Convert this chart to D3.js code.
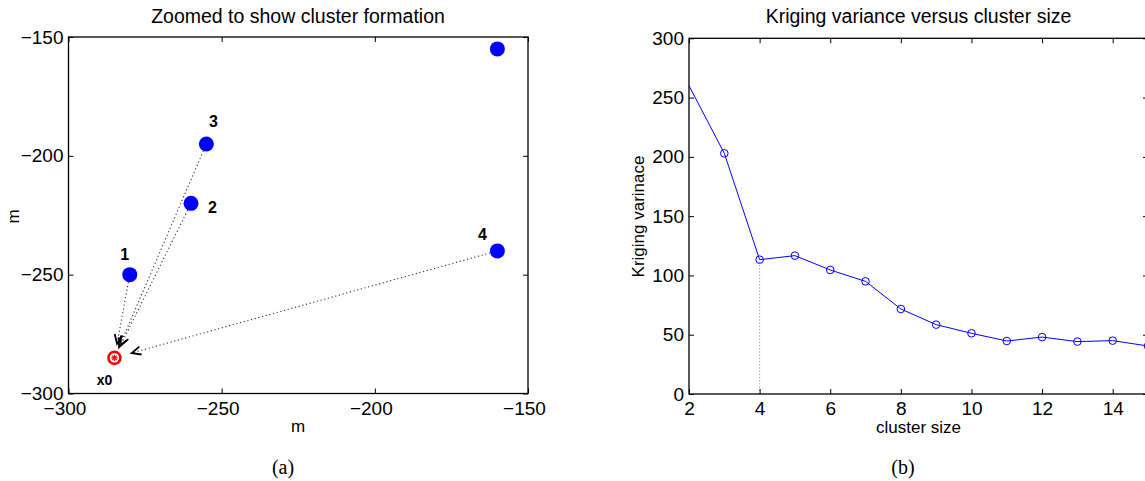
<!DOCTYPE html>
<html><head><meta charset="utf-8">
<script src="https://cdn.jsdelivr.net/npm/d3@7"></script>
<style>
html,body{margin:0;padding:0;background:#fff;overflow:hidden;}
svg{display:block;}
text{font-family:"Liberation Sans",Arial,Helvetica,sans-serif;fill:#000;}
</style></head>
<body>
<svg id="c" width="1145" height="481"></svg>
<script>
// ---------- data: panel (a) ----------
const pointX = [-280, -260, -255, -160, -160];
const pointY = [-250, -220, -195, -240, -155];
const pointLabels = ["1", "2", "3", "4", ""];
const clusterMembers = [0, 1, 2, 3];          // indices of points with arrows to x0
const arrowReach = [0.83, 0.92, 0.95, 0.955]; // fraction of the way to x0 each arrow reaches
const x0 = {x: -285, y: -285, label: "x0"};
const xTicksA = [-300, -250, -200, -150];
const yTicksA = [-300, -250, -200, -150];

// ---------- data: panel (b) ----------
const clusterSize = [2, 3, 4, 5, 6, 7, 8, 9, 10, 11, 12, 13, 14, 15];
const krigVar     = [260, 203, 113.3, 116.7, 104.6, 95, 71.7, 58.5, 51.2, 44.7, 48, 44.2, 45, 40.5];
const chosenSize = 4;
const xTicksB = [2, 4, 6, 8, 10, 12, 14];
const yTicksB = [0, 50, 100, 150, 200, 250, 300];

const svg = d3.select("#c");
const fmt = d3.format("");   // uses U+2212 minus

function box(g, x, y) {
  const [x1, x2] = x.range(), [y1, y2] = y.range();
  g.append("rect").attr("x", Math.min(x1,x2)).attr("y", Math.min(y1,y2))
    .attr("width", Math.abs(x2-x1)).attr("height", Math.abs(y2-y1))
    .attr("fill", "none").attr("stroke", "#000").attr("stroke-width", 1.3);
}
function axes(g, x, y, xt, yt, xdx) {
  const [yb, yt0] = y.range(), [xl, xr] = x.range();
  const ax = g.append("g").attr("transform", `translate(0,${yb})`)
    .call(d3.axisBottom(x).tickValues(xt).tickFormat(fmt).tickSizeInner(-5).tickSizeOuter(0).tickPadding(8));
  ax.selectAll("text").attr("dx", xdx);
  const ay = g.append("g").attr("transform", `translate(${xl},0)`)
    .call(d3.axisLeft(y).tickValues(yt).tickFormat(fmt).tickSizeInner(-5).tickSizeOuter(0).tickPadding(5));
  const at = g.append("g").attr("transform", `translate(0,${yt0})`)
    .call(d3.axisTop(x).tickValues(xt).tickFormat("").tickSizeInner(-5).tickSizeOuter(0));
  const ar = g.append("g").attr("transform", `translate(${xr},0)`)
    .call(d3.axisRight(y).tickValues(yt).tickFormat("").tickSizeInner(-5).tickSizeOuter(0));
  [ax, ay, at, ar].forEach(a => {
    a.select(".domain").remove();
    a.selectAll("line").attr("stroke", "#000").attr("stroke-width", 1);
    a.selectAll("text").style("font-size", "19px").attr("fill", "#000")
      .style("font-family", '"Liberation Sans",Arial,sans-serif');
  });
  box(g, x, y);
}

// ================= Panel (a) =================
const xA = d3.scaleLinear([-300, -150], [68.5, 528]);
const yA = d3.scaleLinear([-300, -150], [393.5, 37]);
const gA = svg.append("g");

// dotted arrows
clusterMembers.forEach((i, k) => {
  const t = arrowReach[k];
  const ex = pointX[i] + (x0.x - pointX[i]) * t, ey = pointY[i] + (x0.y - pointY[i]) * t;
  const p1 = [xA(pointX[i]), yA(pointY[i])], p2 = [xA(ex), yA(ey)];
  gA.append("line").attr("x1", p1[0]).attr("y1", p1[1]).attr("x2", p2[0]).attr("y2", p2[1])
    .attr("stroke", "#333").attr("stroke-width", 1.1).attr("stroke-dasharray", "1.2,2.6");
  const ang = Math.atan2(p2[1]-p1[1], p2[0]-p1[0]);
  const hl = 10, ha = 0.42;
  const a1 = [p2[0] - hl*Math.cos(ang-ha), p2[1] - hl*Math.sin(ang-ha)];
  const a2 = [p2[0] - hl*Math.cos(ang+ha), p2[1] - hl*Math.sin(ang+ha)];
  gA.append("path").attr("d", `M${a1}L${p2}L${a2}`)
    .attr("fill", "none").attr("stroke", "#000").attr("stroke-width", 1.8);
});

// blue points
gA.selectAll("circle.pt").data(pointX).join("circle").attr("class", "pt")
  .attr("cx", d => xA(d)).attr("cy", (d, i) => yA(pointY[i])).attr("r", 7.5)
  .attr("fill", "#0000ff");

// point labels
const labelOff = [[-5, -20], [21.5, 4], [7, -22.5], [-15, -16.5], [0, 0]];
gA.selectAll("text.pl").data(pointLabels).join("text").attr("class", "pl")
  .attr("x", (d, i) => xA(pointX[i]) + labelOff[i][0])
  .attr("y", (d, i) => yA(pointY[i]) + labelOff[i][1])
  .attr("text-anchor", "middle").attr("dy", "0.36em")
  .style("font-size", "16px").style("font-weight", "bold").text(d => d);

// x0 marker
const cx0 = xA(x0.x), cy0 = yA(x0.y);
gA.append("circle").attr("cx", cx0).attr("cy", cy0).attr("r", 6)
  .attr("fill", "#fff").attr("stroke", "#ff0000").attr("stroke-width", 2.6);
[0, 45, 90, 135].forEach(a => {
  const r = 3.2, c = Math.cos(a*Math.PI/180)*r, s = Math.sin(a*Math.PI/180)*r;
  gA.append("line").attr("x1", cx0-c).attr("y1", cy0-s).attr("x2", cx0+c).attr("y2", cy0+s)
    .attr("stroke", "#ff0000").attr("stroke-width", 1.2);
});
gA.append("text").attr("x", cx0 - 10).attr("y", cy0 + 22).attr("dy", "0.36em")
  .attr("text-anchor", "middle").style("font-size", "14px").style("font-weight", "bold").text(x0.label);

axes(gA, xA, yA, xTicksA, yTicksA, -4);

gA.append("text").attr("x", 298).attr("y", 22.5).attr("text-anchor", "middle")
  .style("font-size", "19.5px").text("Zoomed to show cluster formation");
gA.append("text").attr("x", 298).attr("y", 432).attr("text-anchor", "middle")
  .style("font-size", "17px").text("m");
gA.append("text").attr("transform", "translate(18.5,216.5) rotate(-90)").attr("text-anchor", "middle")
  .style("font-size", "17px").text("m");
gA.append("text").attr("x", 283).attr("y", 474).attr("text-anchor", "middle")
  .style("font-size", "20px").style("font-family", '"Liberation Serif","Times New Roman",serif').text("(a)");

// ================= Panel (b) =================
const xB = d3.scaleLinear([2, 15], [689, 1148]);
const yB = d3.scaleLinear([0, 300], [394, 38.3]);
const gB = svg.append("g");

const ci = clusterSize.indexOf(chosenSize);
gB.append("line").attr("x1", xB(chosenSize)).attr("x2", xB(chosenSize))
  .attr("y1", yB(0)).attr("y2", yB(krigVar[ci]))
  .attr("stroke", "#888").attr("stroke-width", 1).attr("stroke-dasharray", "1,2.2");

gB.append("path").datum(clusterSize)
  .attr("d", d3.line().x(d => xB(d)).y((d, i) => yB(krigVar[i])))
  .attr("fill", "none").attr("stroke", "#0000ff").attr("stroke-width", 1);

gB.selectAll("circle.mk").data(clusterSize.slice(1)).join("circle").attr("class", "mk")
  .attr("cx", d => xB(d)).attr("cy", (d, i) => yB(krigVar[i+1])).attr("r", 3.8)
  .attr("fill", "none").attr("stroke", "#0000ff").attr("stroke-width", 1);

axes(gB, xB, yB, xTicksB, yTicksB, 0);

gB.append("text").attr("x", 918.5).attr("y", 22.5).attr("text-anchor", "middle")
  .style("font-size", "19.5px").text("Kriging variance versus cluster size");
gB.append("text").attr("x", 918.5).attr("y", 433).attr("text-anchor", "middle")
  .style("font-size", "17px").text("cluster size");
gB.append("text").attr("transform", "translate(644,216.5) rotate(-90)").attr("text-anchor", "middle")
  .style("font-size", "17px").text("Kriging varinace");
gB.append("text").attr("x", 903).attr("y", 474).attr("text-anchor", "middle")
  .style("font-size", "20px").style("font-family", '"Liberation Serif","Times New Roman",serif').text("(b)");
</script>
</body></html>
